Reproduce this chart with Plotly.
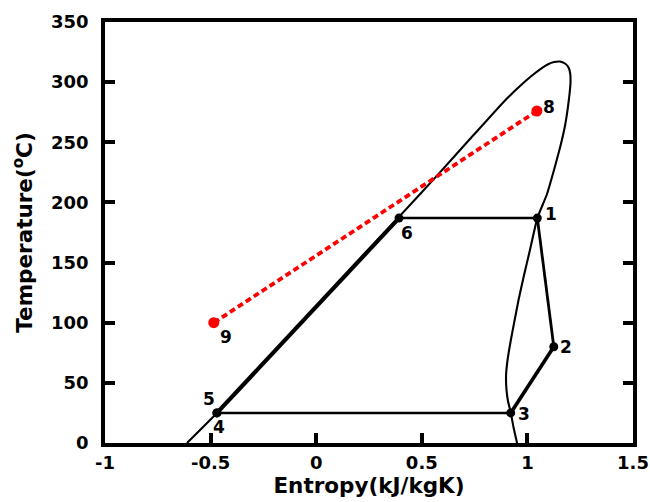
import plotly.graph_objects as go

# Saturation dome (entropy kJ/kgK, temperature °C)
dome_s = [-0.612, -0.470, 0.392, 0.586, 0.728, 0.894, 0.965, 1.022, 1.065, 1.098,
          1.126, 1.154, 1.178, 1.195, 1.203, 1.204, 1.199, 1.190, 1.176, 1.154,
          1.126, 1.093, 1.047, 1.012, 0.982, 0.958, 0.937, 0.920, 0.906, 0.899,
          0.901, 0.908, 0.921, 0.934, 0.951]
dome_T = [0, 25, 188, 225, 252.7, 284.8, 296.8, 305.5, 311.3, 314.9,
          316.7, 317.1, 315.5, 312.2, 306.8, 299.3, 289.3, 276.8, 261.9, 245.2,
          226.9, 207, 187, 160.4, 138, 118.9, 99.8, 84, 69, 56.5,
          44.1, 34.9, 25.5, 13.3, 0]

# Cycle states 1-2-3-4-5-6-1
cycle_labels = ["1", "2", "3", "4", "5", "6"]
cycle_s = [1.047, 1.125, 0.921, -0.470, -0.470, 0.392]
cycle_T = [187, 80, 25, 25, 25, 187]

# Heat source line 8 -> 9
src_labels = ["8", "9"]
src_s = [1.045, -0.485]
src_T = [276, 100]

x_ticks = [-1, -0.5, 0, 0.5, 1, 1.5]
x_tick_text = ["-1", "-0.5", "0", "0.5", "1", "1.5"]
y_ticks = [0, 50, 100, 150, 200, 250, 300, 350]
y_tick_text = ["0", "50", "100", "150", "200", "250", "300", "350"]

FONT = "DejaVu Sans, Liberation Sans, Arial, sans-serif"

fig = go.Figure()

fig.add_trace(go.Scatter(x=dome_s, y=dome_T, mode="lines",
                         line=dict(color="black", width=2.1, shape="spline", smoothing=0.4),
                         hoverinfo="skip", showlegend=False))

# thick segments of the cycle
seg_s = cycle_s + [cycle_s[0]]
seg_T = cycle_T + [cycle_T[0]]
widths = [2.8, 3.6, 2.6, 2.6, 4.2, 2.6]
for i in range(6):
    fig.add_trace(go.Scatter(x=seg_s[i:i + 2], y=seg_T[i:i + 2], mode="lines",
                             line=dict(color="black", width=widths[i]),
                             hoverinfo="skip", showlegend=False))

fig.add_trace(go.Scatter(x=cycle_s, y=cycle_T, mode="markers",
                         marker=dict(color="black", size=9),
                         hoverinfo="skip", showlegend=False))

fig.add_trace(go.Scatter(x=src_s, y=src_T, mode="lines+markers",
                         line=dict(color="#ff0000", width=3.8, dash="6px,3.5px"),
                         marker=dict(color="#ff0000", size=11),
                         hoverinfo="skip", showlegend=False))

# point labels
label_offsets = {"1": (14, 4), "2": (12, 0), "3": (13, -1), "4": (2, -14),
                 "5": (-8, 14), "6": (8, -15), "8": (12, 4), "9": (12, -14)}
all_labels = cycle_labels + src_labels
all_s = cycle_s + src_s
all_T = cycle_T + src_T
for lab, s, t in zip(all_labels, all_s, all_T):
    dx, dy = label_offsets[lab]
    fig.add_annotation(x=s, y=t, text="<b>%s</b>" % lab, showarrow=False,
                       xshift=dx, yshift=dy,
                       font=dict(family=FONT, size=17, color="black"))

fig.update_layout(
    width=650, height=502,
    margin=dict(l=105, r=17, t=22, b=59, autoexpand=False),
    paper_bgcolor="white", plot_bgcolor="white",
    font=dict(family=FONT, color="black"),
)
fig.update_xaxes(range=[-1, 1.5], tickvals=x_ticks, ticktext=x_tick_text,
                 showgrid=False, zeroline=False, automargin=False,
                 showline=True, linecolor="black", linewidth=3.5, mirror=True,
                 ticks="inside", ticklen=10, tickwidth=3.5, tickcolor="black",
                 ticklabelstandoff=1,
                 tickfont=dict(family=FONT, size=18, weight="bold"),
                 title=dict(text="<b>Entropy(kJ/kgK)</b>", standoff=4,
                            font=dict(family=FONT, size=21.5)))
fig.update_yaxes(range=[0, 350], tickvals=y_ticks, ticktext=y_tick_text,
                 showgrid=False, zeroline=False, automargin=False,
                 showline=True, linecolor="black", linewidth=3.5, mirror="ticks",
                 ticks="inside", ticklen=10, tickwidth=3.5, tickcolor="black",
                 ticklabelstandoff=9,
                 tickfont=dict(family=FONT, size=18, weight="bold"),
                 title=dict(text="<b>Temperature(<sup>o</sup>C)</b>", standoff=14,
                            font=dict(family=FONT, size=21.5)))

fig.write_html("out.html", config={"displayModeBar": False},
               post_script="document.body.style.margin='0px';")
